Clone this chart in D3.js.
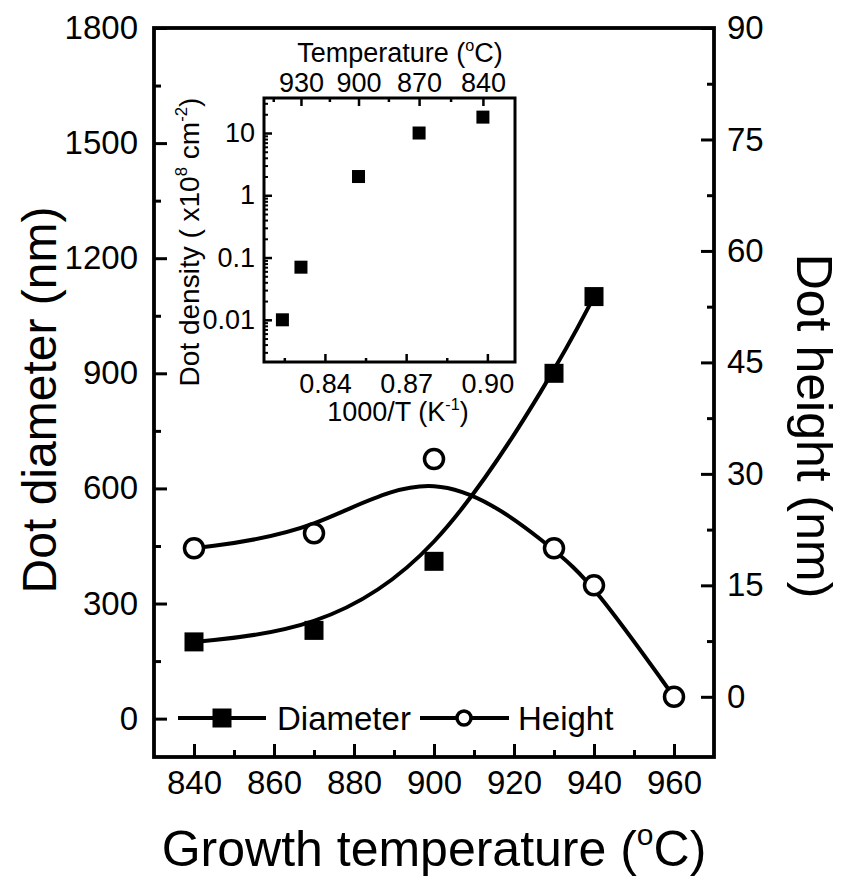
<!DOCTYPE html>
<html><head><meta charset="utf-8">
<script src="https://cdn.jsdelivr.net/npm/d3@7"></script>
<style>
body{margin:0;background:#fff;}
svg{display:block;}
</style></head><body>
<svg id="c" width="842" height="882"></svg>
<script>
// ---------- data ----------
const diamTemps = [840, 870, 900, 930, 940];
const diameters = [200, 230, 410, 900, 1100];
const heightTemps = [840, 870, 900, 930, 940, 960];
const heights = [20, 22, 32, 20, 15, 0];
const densityTemps = [940, 930, 900, 870, 840];
const densities = [0.01, 0.07, 2, 10, 18];

const xTicks = [840, 860, 880, 900, 920, 940, 960];
const xMinor = [850, 870, 890, 910, 930, 950];
const yLeftTicks = [0, 300, 600, 900, 1200, 1500, 1800];
const yLeftMinor = [150, 450, 750, 1050, 1350, 1650];
const yRightTicks = [0, 15, 30, 45, 60, 75, 90];
const yRightMinor = [7.5, 22.5, 37.5, 52.5, 67.5, 82.5];
const insetXTicks = [0.84, 0.87, 0.90];
const insetXMinor = [0.825, 0.855, 0.885];
const insetTopTicks = [930, 900, 870, 840];
const insetTopMinor = [945, 915, 885, 855];
const insetYTicks = [0.01, 0.1, 1, 10];

const FONT = "'Liberation Sans', Arial, Helvetica, sans-serif";
const svg = d3.select("#c").attr("font-family", FONT);

// ---------- main scales ----------
const x = d3.scaleLinear().domain([830, 970]).range([154, 714]);
const yL = d3.scaleLinear().domain([-100, 1800]).range([757, 28]);
const yR = d3.scaleLinear().domain([-8.1, 90]).range([757, 28]);

function style(g, fs, sw) {
  g.attr("font-family", FONT).attr("font-size", fs);
  g.select(".domain").remove();
  g.selectAll(".tick line").attr("stroke", "#000").attr("stroke-width", sw);
  g.selectAll(".tick text").attr("fill", "#000");
}

// bottom
svg.append("g").attr("transform", "translate(0,757)")
  .call(d3.axisBottom(x).tickValues(xTicks).tickSize(-13).tickPadding(14).tickFormat(d3.format("d")))
  .call(g => style(g, 33, 3));
svg.append("g").attr("transform", "translate(0,757)")
  .call(d3.axisBottom(x).tickValues(xMinor).tickSize(-7).tickFormat(""))
  .call(g => style(g, 33, 3));
// left
svg.append("g").attr("transform", "translate(154,0)")
  .call(d3.axisLeft(yL).tickValues(yLeftTicks).tickSize(-13).tickPadding(16).tickFormat(d3.format("d")))
  .call(g => style(g, 33, 3));
svg.append("g").attr("transform", "translate(154,0)")
  .call(d3.axisLeft(yL).tickValues(yLeftMinor).tickSize(-7).tickFormat(""))
  .call(g => style(g, 33, 3));
// right
svg.append("g").attr("transform", "translate(714,0)")
  .call(d3.axisRight(yR).tickValues(yRightTicks).tickSize(-13).tickPadding(13).tickFormat(d3.format("d")))
  .call(g => style(g, 33, 3));
svg.append("g").attr("transform", "translate(714,0)")
  .call(d3.axisRight(yR).tickValues(yRightMinor).tickSize(-7).tickFormat(""))
  .call(g => style(g, 33, 3));

// frame
svg.append("rect").attr("x", 154).attr("y", 28).attr("width", 560).attr("height", 729)
  .attr("fill", "none").attr("stroke", "#000").attr("stroke-width", 3.8);

// ---------- curves ----------
const diamData = diamTemps.map((t, i) => ({t, v: diameters[i]}));
const heightData = heightTemps.map((t, i) => ({t, v: heights[i]}));

svg.append("path").datum(diamData)
  .attr("d", d3.line().x(d => x(d.t)).y(d => yL(d.v)).curve(d3.curveBasis))
  .attr("fill", "none").attr("stroke", "#000").attr("stroke-width", 4);
svg.append("path").datum(heightData)
  .attr("d", d3.line().x(d => x(d.t)).y(d => yR(d.v)).curve(d3.curveBasis))
  .attr("fill", "none").attr("stroke", "#000").attr("stroke-width", 4);

const SQ = 19;
svg.append("g").selectAll("rect").data(diamData).join("rect")
  .attr("x", d => x(d.t) - SQ / 2).attr("y", d => yL(d.v) - SQ / 2)
  .attr("width", SQ).attr("height", SQ).attr("fill", "#000");
svg.append("g").selectAll("circle").data(heightData).join("circle")
  .attr("cx", d => x(d.t)).attr("cy", d => yR(d.v)).attr("r", 9.5)
  .attr("fill", "#fff").attr("stroke", "#000").attr("stroke-width", 3.5);

// ---------- legend ----------
const leg = svg.append("g");
const ly = 718;
leg.append("line").attr("x1", 178).attr("x2", 266).attr("y1", ly).attr("y2", ly)
  .attr("stroke", "#000").attr("stroke-width", 4);
leg.append("rect").attr("x", 222 - SQ / 2).attr("y", ly - SQ / 2).attr("width", SQ).attr("height", SQ).attr("fill", "#000");
leg.append("text").attr("x", 277).attr("y", ly + 12).attr("font-size", 33).text("Diameter");
leg.append("line").attr("x1", 420).attr("x2", 509).attr("y1", ly).attr("y2", ly)
  .attr("stroke", "#000").attr("stroke-width", 4);
leg.append("circle").attr("cx", 464).attr("cy", ly).attr("r", 7)
  .attr("fill", "#fff").attr("stroke", "#000").attr("stroke-width", 3.5);
leg.append("text").attr("x", 518).attr("y", ly + 12).attr("font-size", 33).text("Height");

// ---------- titles ----------
function supText(sel, parts, fs) {
  let shifted = false;
  parts.forEach(([t, k]) => {
    const ts = sel.append("tspan").text(t);
    if (k === "sup") { ts.attr("font-size", fs * 0.6).attr("dy", -fs * 0.42); shifted = true; }
    else if (shifted) { ts.attr("dy", fs * 0.42); shifted = false; }
  });
}
const tb = svg.append("text").attr("x", 434).attr("y", 866).attr("text-anchor", "middle").attr("font-size", 50);
supText(tb, [["Growth temperature (", "n"], ["o", "sup"], ["C)", "n"]], 50);

svg.append("text").attr("transform", "translate(56,400) rotate(-90)").attr("text-anchor", "middle")
  .attr("font-size", 48).text("Dot diameter (nm)");
svg.append("text").attr("transform", "translate(797,426) rotate(90)").attr("text-anchor", "middle")
  .attr("font-size", 50).text("Dot height (nm)");

// ---------- inset ----------
const ix = d3.scaleLinear().domain([0.8175, 0.9102]).range([264, 515]);
const iy = d3.scaleLog().domain([0.0021, 36.5]).range([362, 98]);
const toInv = T => 1000 / (T + 273.15);

svg.append("g").attr("transform", "translate(0,362)")
  .call(d3.axisBottom(ix).tickValues(insetXTicks).tickSize(-8).tickPadding(12).tickFormat(d3.format(".2f")))
  .call(g => style(g, 27, 2.5));
svg.append("g").attr("transform", "translate(0,362)")
  .call(d3.axisBottom(ix).tickValues(insetXMinor).tickSize(-4).tickFormat(""))
  .call(g => style(g, 27, 2.5));
svg.append("g").attr("transform", "translate(0,98)")
  .call(d3.axisTop(ix).tickValues(insetTopTicks.map(toInv)).tickSize(-8).tickPadding(6)
    .tickFormat(v => Math.round(1000 / v - 273.15)))
  .call(g => style(g, 27, 2.5));
svg.append("g").attr("transform", "translate(0,98)")
  .call(d3.axisTop(ix).tickValues(insetTopMinor.map(toInv)).tickSize(-4).tickFormat(""))
  .call(g => style(g, 27, 2.5));
svg.append("g").attr("transform", "translate(264,0)")
  .call(d3.axisLeft(iy).tickValues(insetYTicks).tickSize(-8).tickPadding(9).tickFormat(d => String(d)))
  .call(g => style(g, 27, 2.5));
const logMinor = iy.ticks().filter(v => !insetYTicks.some(m => Math.abs(m - v) / m < 1e-6));
svg.append("g").attr("transform", "translate(264,0)")
  .call(d3.axisLeft(iy).tickValues(logMinor).tickSize(-4).tickFormat(""))
  .call(g => style(g, 27, 2));

svg.append("rect").attr("x", 264).attr("y", 98).attr("width", 251).attr("height", 264)
  .attr("fill", "none").attr("stroke", "#000").attr("stroke-width", 3);

const ISQ = 13;
svg.append("g").selectAll("rect").data(densityTemps.map((t, i) => ({t, v: densities[i]}))).join("rect")
  .attr("x", d => ix(toInv(d.t)) - ISQ / 2).attr("y", d => iy(d.v) - ISQ / 2)
  .attr("width", ISQ).attr("height", ISQ).attr("fill", "#000");

const it1 = svg.append("text").attr("x", 400).attr("y", 62).attr("text-anchor", "middle").attr("font-size", 27);
supText(it1, [["Temperature (", "n"], ["o", "sup"], ["C)", "n"]], 27);
const it2 = svg.append("text").attr("x", 398).attr("y", 421).attr("text-anchor", "middle").attr("font-size", 27);
supText(it2, [["1000/T (K", "n"], ["-1", "sup"], [")", "n"]], 27);
const it3 = svg.append("text").attr("transform", "translate(199,242) rotate(-90)").attr("text-anchor", "middle").attr("font-size", 28);
supText(it3, [["Dot density ( x10", "n"], ["8", "sup"], [" cm", "n"], ["-2", "sup"], [")", "n"]], 28);
</script>
</body></html>
